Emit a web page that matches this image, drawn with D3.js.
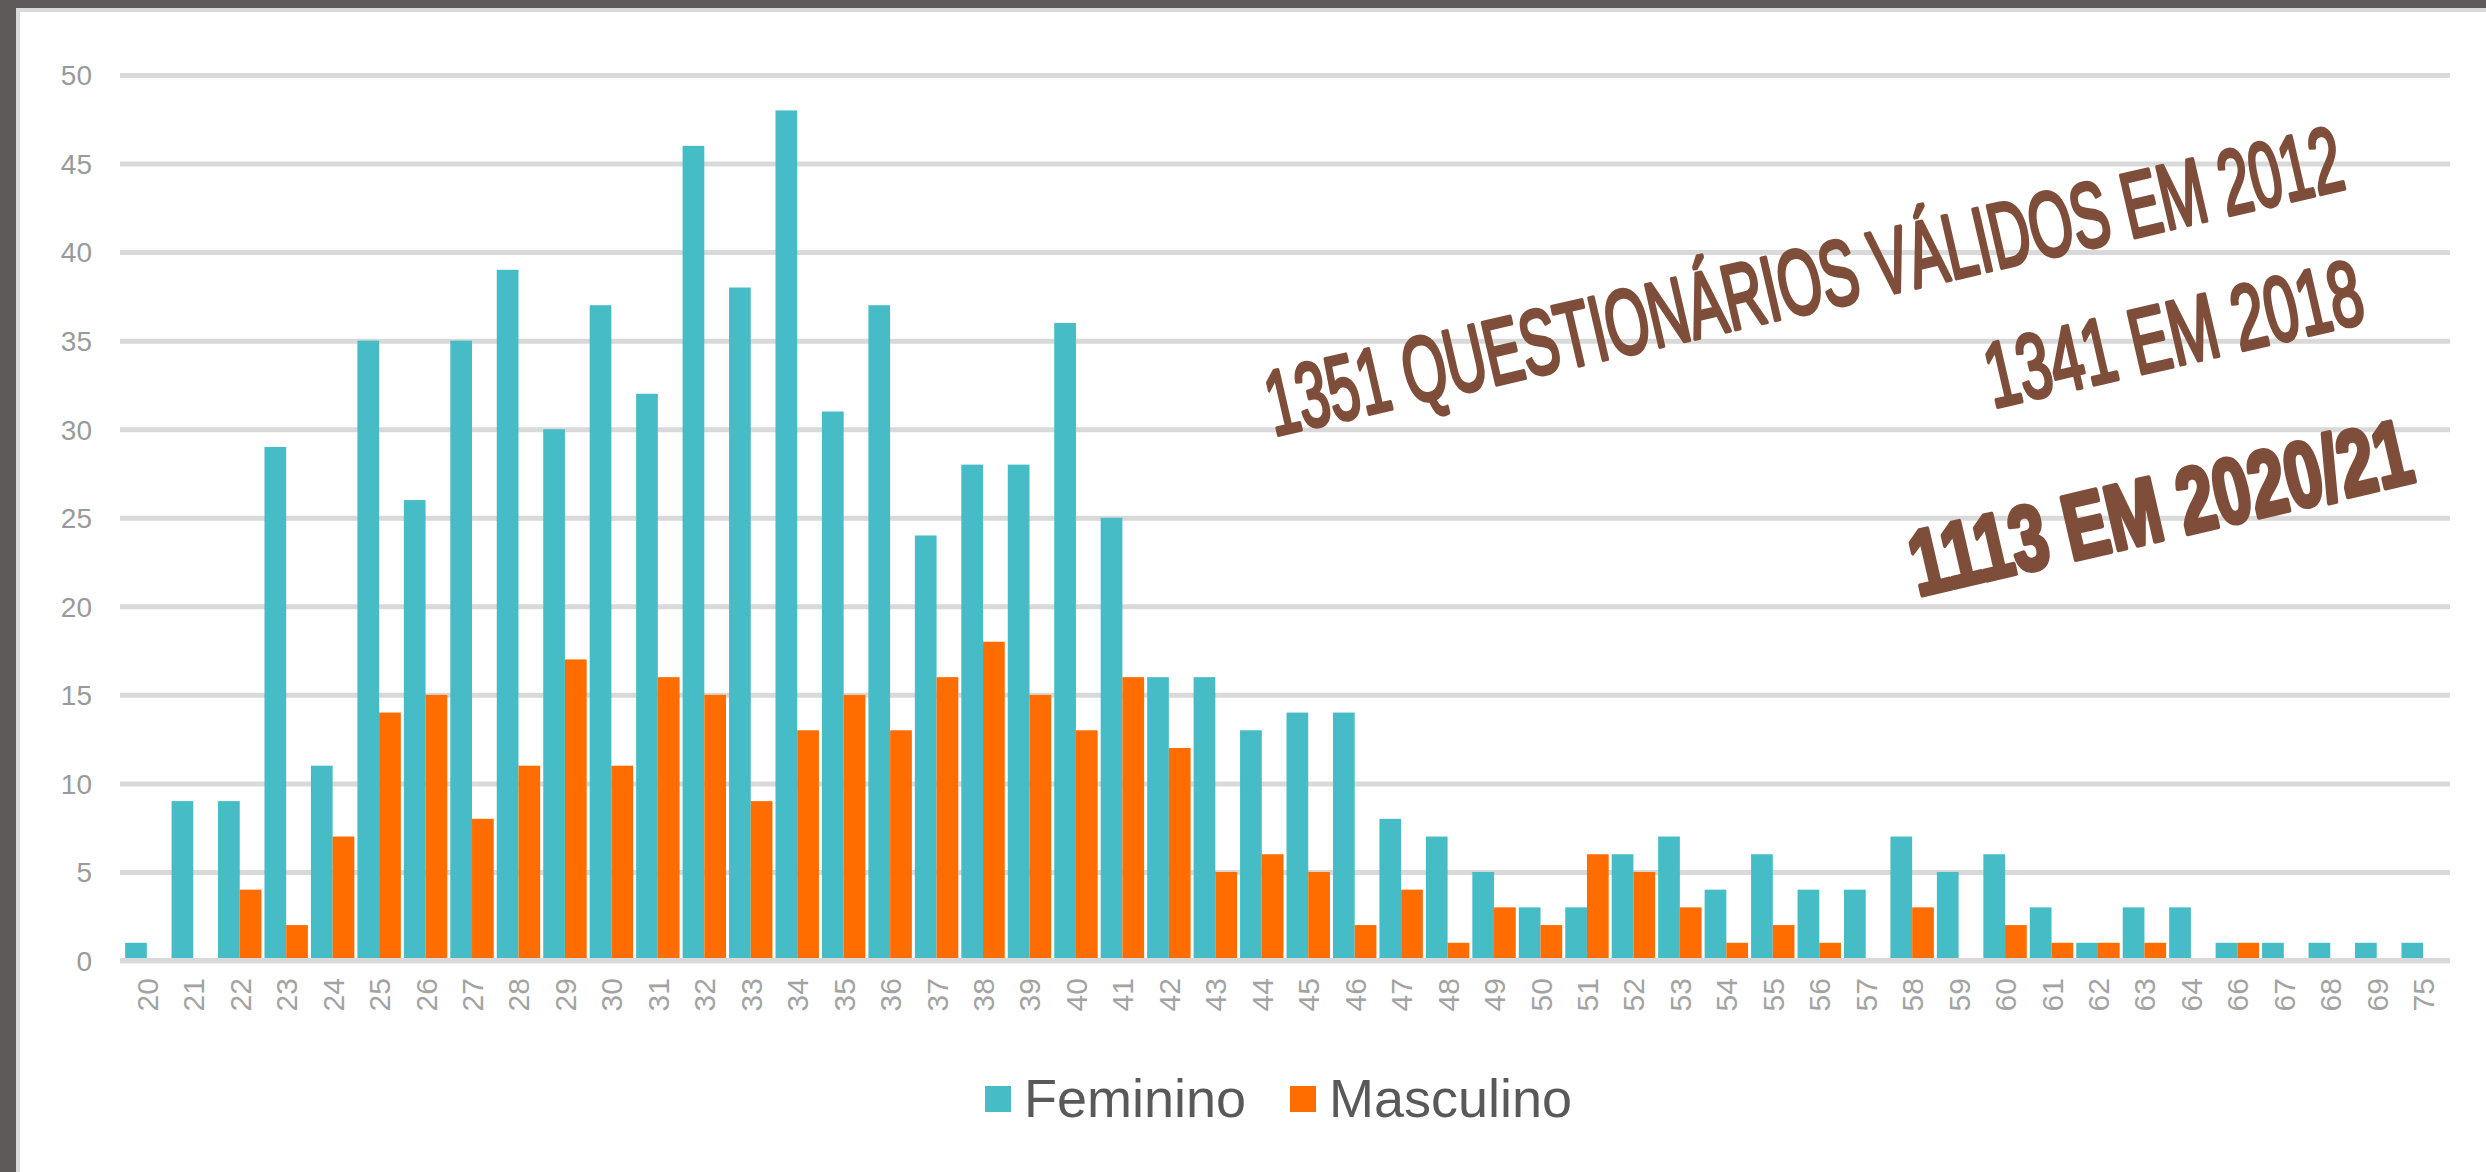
<!DOCTYPE html>
<html>
 <head>
 <title>Idades</title>
 <meta charset="UTF-8">
 <script src="https://d3js.org/d3.v7.min.js"></script>
 <style>
    body { margin: 0; background: #fff; }
    .grid line { stroke: #d9d9d9; stroke-width: 5px; }
    .grid text { font: 28px "Liberation Sans", Arial, sans-serif; fill: #9a9a9a; }
    .xlab { font: 30px "Liberation Sans", Arial, sans-serif; fill: #a3a3a3; }
    .legend text { font: 54px "Liberation Sans", Arial, sans-serif; fill: #595959; }
    .note { font-family: "Liberation Sans", Arial, sans-serif; fill: #7e4e3a; stroke: #7e4e3a; stroke-linejoin: round; }
 </style>
</head>
 <body>
 <script type="text/javascript">
    // DATA
    var idades = ["20","21","22","23","24","25","26","27","28","29",
                  "30","31","32","33","34","35","36","37","38","39",
                  "40","41","42","43","44","45","46","47","48","49",
                  "50","51","52","53","54","55","56","57","58","59",
                  "60","61","62","63","64","66","67","68","69","75"];
    var feminino = [1, 9, 9, 29, 11, 35, 26, 35, 39, 30,
                    37, 32, 46, 38, 48, 31, 37, 24, 28, 28,
                    36, 25, 16, 16, 13, 14, 14, 8, 7, 5,
                    3, 3, 6, 7, 4, 6, 4, 4, 7, 5,
                    6, 3, 1, 3, 3, 1, 1, 1, 1, 1];
    var masculino = [0, 0, 4, 2, 7, 14, 15, 8, 11, 17,
                     11, 16, 15, 9, 13, 15, 13, 16, 18, 15,
                     13, 16, 12, 5, 6, 5, 2, 4, 1, 3,
                     2, 6, 5, 3, 1, 2, 1, 0, 3, 0,
                     2, 1, 1, 1, 0, 1, 0, 0, 0, 0];
    var series = ["Feminino", "Masculino"];
    var cores = ["#46bdc6", "#ff6d01"];
    var yTicks = [0, 5, 10, 15, 20, 25, 30, 35, 40, 45, 50];
    var notas = ["1351 QUESTIONÁRIOS VÁLIDOS EM 2012", "1341 EM 2018", "1113 EM 2020/21"];

    var width = 2486, height = 1172;
    var plot = {left: 120, right: 2450, top: 75, bottom: 960.5};

    var svg = d3.select("body").append("svg")
        .attr("width", width)
        .attr("height", height);

    // FRAME
    svg.append("rect").attr("x", 0).attr("y", 0).attr("width", width).attr("height", 8).attr("fill", "#5e5a5a");
    svg.append("rect").attr("x", 0).attr("y", 0).attr("width", 16).attr("height", height).attr("fill", "#5e5a5a");
    svg.append("rect").attr("x", 16).attr("y", 8).attr("width", width - 16).attr("height", 4).attr("fill", "#d9d9d9");
    svg.append("rect").attr("x", 16).attr("y", 8).attr("width", 4).attr("height", height - 8).attr("fill", "#d9d9d9");

    // SCALES
    var x = d3.scaleBand()
        .domain(idades)
        .range([plot.left, plot.right])
        .paddingInner(0.065)
        .paddingOuter(0.11);
    var x1 = d3.scaleBand()
        .domain(series)
        .range([0, x.bandwidth()]);
    var y = d3.scaleLinear()
        .domain([0, 50])
        .range([plot.bottom, plot.top]);

    // GRID + Y LABELS
    var yAxis = d3.axisLeft(y)
        .tickValues(yTicks)
        .tickSizeInner(-(plot.right - plot.left))
        .tickSizeOuter(0)
        .tickPadding(28);
    var gy = svg.append("g")
        .attr("class", "grid")
        .attr("transform", "translate(" + plot.left + ",0)")
        .call(yAxis);
    gy.select(".domain").remove();
    gy.selectAll("text").attr("dy", "0.35em");

    // BARS
    var rows = idades.map(function (d, i) {
        return {idade: d, valores: [feminino[i], masculino[i]]};
    });
    var grupo = svg.append("g").selectAll("g")
        .data(rows)
        .join("g")
        .attr("transform", function (d) { return "translate(" + x(d.idade) + ",0)"; });
    grupo.selectAll("rect")
        .data(function (d) { return d.valores.map(function (v, j) { return {s: series[j], v: v, c: cores[j]}; }); })
        .join("rect")
        .attr("x", function (d) { return x1(d.s); })
        .attr("y", function (d) { return y(d.v); })
        .attr("width", x1.bandwidth())
        .attr("height", function (d) { return y(0) - y(d.v); })
        .attr("fill", function (d) { return d.c; });

    // ZERO LINE ON TOP
    svg.append("line")
        .attr("x1", plot.left).attr("x2", plot.right)
        .attr("y1", y(0)).attr("y2", y(0))
        .attr("stroke", "#d9d9d9").attr("stroke-width", 5);

    // X LABELS (rotated)
    svg.append("g").selectAll("text")
        .data(idades)
        .join("text")
        .attr("class", "xlab")
        .attr("text-anchor", "end")
        .attr("transform", function (d) {
            return "translate(" + (x(d) + x.bandwidth() / 2 + 11) + ",978) rotate(-90)";
        })
        .text(function (d) { return d; });

    // LEGEND
    var legX = [985, 1290];
    var leg = svg.append("g").attr("class", "legend");
    series.forEach(function (s, i) {
        leg.append("rect")
            .attr("x", legX[i]).attr("y", 1086)
            .attr("width", 26).attr("height", 26)
            .attr("fill", cores[i]);
        leg.append("text")
            .attr("x", legX[i] + 39).attr("y", 1117)
            .text(s);
    });

    // NOTES
    var notaPos = [
        {x: 1274, y: 436, len: 1102, size: 92, sw: 4, w: "normal"},
        {x: 1993, y: 408, len: 385, size: 92, sw: 4, w: "normal"},
        {x: 1918, y: 596, len: 512, size: 92, sw: 5, w: "bold"}
    ];
    notas.forEach(function (t, i) {
        var p = notaPos[i];
        svg.append("text")
            .attr("class", "note")
            .attr("transform", "translate(" + p.x + "," + p.y + ") rotate(-13)")
            .attr("font-size", p.size)
            .attr("font-weight", p.w)
            .attr("stroke-width", p.sw)
            .attr("textLength", p.len)
            .attr("lengthAdjust", "spacingAndGlyphs")
            .text(t);
    });
 </script>
 </body>
</html>
